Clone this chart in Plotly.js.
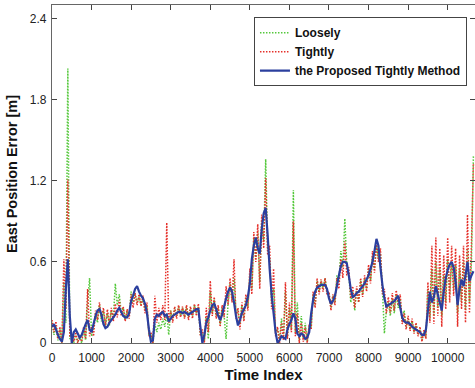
<!DOCTYPE html>
<html>
<head>
<meta charset="utf-8">
<script src="https://cdn.plot.ly/plotly-3.0.1.min.js"></script>
<style>html,body{margin:0;padding:0;background:#fff;}#chart{width:475px;height:388px;}</style>
</head>
<body>
<div id="chart"></div>
<script>
// Time index step between samples
const step = 50;

const seriesNames = ["Loosely", "Tightly", "the Proposed Tightly Method"];
const xTickVals = [0,1000,2000,3000,4000,5000,6000,7000,8000,9000,10000];
const xTickText = ["0","1000","2000","3000","4000","5000","6000","7000","8000","9000","10000"];
const yTickVals = [0,0.6,1.2,1.8,2.4];
const yTickText = ["0","0.6","1.2","1.8","2.4"];

const proposed = [
0.12,0.14,0.10,0.06,0.03,0.01,0.08,0.40,0.62,0.20,
0.00,0.08,0.10,0.07,0.04,0.06,0.10,0.14,0.17,0.10,
0.08,0.14,0.20,0.24,0.25,0.21,0.14,0.11,0.12,0.15,
0.17,0.19,0.21,0.24,0.26,0.23,0.20,0.19,0.19,0.22,
0.31,0.35,0.40,0.42,0.38,0.35,0.33,0.29,0.22,0.10,
0.01,0.02,0.18,0.21,0.20,0.22,0.23,0.20,0.21,0.16,
0.18,0.20,0.21,0.22,0.23,0.23,0.22,0.23,0.22,0.21,
0.22,0.23,0.24,0.25,0.25,0.12,0.00,0.06,0.15,0.19,
0.24,0.28,0.29,0.25,0.20,0.17,0.21,0.27,0.33,0.38,
0.41,0.38,0.30,0.20,0.13,0.17,0.22,0.25,0.28,0.34,
0.44,0.62,0.72,0.78,0.70,0.66,0.84,0.96,1.00,0.80,
0.55,0.36,0.22,0.08,0.00,0.02,0.05,0.04,0.03,0.10,
0.14,0.17,0.22,0.18,0.07,0.05,0.07,0.06,0.03,0.04,
0.08,0.22,0.32,0.38,0.41,0.42,0.43,0.43,0.43,0.40,
0.33,0.29,0.31,0.35,0.42,0.50,0.57,0.60,0.60,0.59,
0.50,0.40,0.34,0.35,0.37,0.38,0.40,0.42,0.44,0.47,
0.50,0.55,0.60,0.68,0.77,0.72,0.56,0.43,0.33,0.27,
0.28,0.29,0.30,0.31,0.33,0.35,0.26,0.19,0.16,0.15,
0.15,0.14,0.12,0.11,0.10,0.09,0.08,0.06,0.06,0.10,
0.24,0.38,0.30,0.34,0.42,0.36,0.30,0.24,0.38,0.48,
0.54,0.58,0.60,0.56,0.45,0.28,0.40,0.47,0.42,0.50,
0.60,0.46,0.50,0.53
];

const tightly = [
0.17,0.08,0.16,0.03,0.12,0.00,0.62,0.25,1.21,0.05,
0.06,0.01,0.08,0.00,0.05,0.01,0.12,0.03,0.40,0.05,
0.12,0.05,0.24,0.17,0.30,0.18,0.26,0.13,0.25,0.14,
0.26,0.16,0.29,0.19,0.32,0.20,0.27,0.16,0.25,0.18,
0.36,0.26,0.37,0.28,0.36,0.27,0.35,0.22,0.30,0.05,
0.08,0.00,0.35,0.15,0.26,0.17,0.28,0.17,0.89,0.15,
0.24,0.15,0.27,0.18,0.28,0.19,0.27,0.18,0.28,0.17,
0.27,0.18,0.29,0.20,0.29,0.05,0.10,0.00,0.26,0.08,
0.46,0.20,0.34,0.18,0.28,0.12,0.28,0.19,0.42,0.28,
0.48,0.30,0.62,0.18,0.26,0.10,0.30,0.16,0.36,0.24,
0.55,0.36,0.82,0.60,0.88,0.40,0.95,0.70,1.22,0.65,
0.72,0.25,0.55,0.05,0.12,0.00,0.15,0.02,0.45,0.03,
0.30,0.08,0.90,0.05,0.22,0.00,0.15,0.01,0.12,0.00,
0.14,0.10,0.38,0.26,0.48,0.36,0.47,0.38,0.48,0.36,
0.38,0.24,0.36,0.28,0.48,0.40,0.62,0.48,0.75,0.50,
0.56,0.33,0.42,0.26,0.42,0.30,0.48,0.34,0.50,0.38,
0.58,0.44,0.68,0.52,0.75,0.60,0.70,0.36,0.40,0.22,
0.34,0.22,0.37,0.24,0.39,0.28,0.36,0.14,0.22,0.10,
0.20,0.09,0.18,0.07,0.15,0.05,0.12,0.01,0.10,0.03,
0.45,0.15,0.72,0.14,0.78,0.20,0.70,0.12,0.65,0.25,
0.78,0.30,0.72,0.35,0.70,0.12,0.65,0.25,0.72,0.15,
0.95,0.22,0.72,1.33
];

const loosely = [
0.15,0.06,0.13,0.02,0.10,0.00,0.45,0.15,2.03,0.03,
0.04,0.00,0.06,0.01,0.04,0.00,0.10,0.02,0.30,0.48,
0.05,0.12,0.22,0.15,0.28,0.16,0.24,0.12,0.22,0.13,
0.24,0.18,0.44,0.28,0.36,0.22,0.26,0.17,0.24,0.20,
0.38,0.30,0.36,0.30,0.34,0.28,0.33,0.25,0.28,0.06,
0.06,0.00,0.14,0.08,0.15,0.10,0.18,0.12,0.22,0.06,
0.24,0.17,0.26,0.20,0.27,0.20,0.26,0.19,0.27,0.19,
0.26,0.20,0.28,0.22,0.27,0.06,0.08,0.01,0.20,0.03,
0.38,0.22,0.32,0.20,0.26,0.14,0.26,0.20,0.03,0.30,
0.44,0.32,0.48,0.22,0.24,0.14,0.28,0.18,0.34,0.26,
0.50,0.40,0.78,0.62,0.82,0.45,0.90,0.75,1.36,0.70,
0.62,0.30,0.40,0.08,0.10,0.02,0.18,0.04,0.38,0.05,
0.26,0.10,1.13,0.08,0.30,0.02,0.20,0.03,0.15,0.01,
0.12,0.12,0.36,0.28,0.46,0.38,0.46,0.40,0.48,0.38,
0.36,0.26,0.35,0.30,0.50,0.45,0.68,0.56,0.92,0.58,
0.52,0.30,0.38,0.24,0.40,0.30,0.46,0.36,0.48,0.40,
0.55,0.46,0.64,0.55,0.72,0.62,0.66,0.40,0.07,0.24,
0.30,0.20,0.33,0.22,0.36,0.26,0.33,0.16,0.24,0.12,
0.18,0.10,0.16,0.08,0.14,0.06,0.10,0.02,0.08,0.04,
0.40,0.18,0.55,0.20,0.60,0.26,0.55,0.20,0.50,0.30,
0.62,0.36,0.60,0.40,0.58,0.22,0.55,0.30,0.60,0.25,
0.70,0.30,0.60,1.39
];

const timeIndex = proposed.map((_, i) => i * step);

const traces = [
  {x: timeIndex, y: loosely, name: seriesNames[0], type: 'scatter', mode: 'lines',
   line: {color: '#55c83c', width: 1.5, dash: '1.5px,1.5px', simplify: false}},
  {x: timeIndex, y: tightly, name: seriesNames[1], type: 'scatter', mode: 'lines',
   line: {color: '#e5302a', width: 1.5, dash: '1.5px,1.5px', simplify: false}},
  {x: timeIndex, y: proposed, name: seriesNames[2], type: 'scatter', mode: 'lines',
   line: {color: '#2b3f9e', width: 2.2, simplify: false}}
];

const axisCommon = {
  showline: true, mirror: 'ticks', linecolor: '#666', linewidth: 1.2,
  ticks: 'inside', ticklen: 5, tickcolor: '#444', tickwidth: 1,
  showgrid: false, zeroline: false,
  tickfont: {family: 'Liberation Sans, Arial, sans-serif', size: 12, color: '#222'}
};

const layout = {
  width: 475, height: 388,
  margin: {l: 52, r: 0, t: 5, b: 45},
  paper_bgcolor: '#fff', plot_bgcolor: '#fff',
  showlegend: true,
  xaxis: Object.assign({}, axisCommon, {
    range: [0, 10690], tickvals: xTickVals, ticktext: xTickText, ticklabelstandoff: 3,
    title: {text: 'Time Index', standoff: 6,
      font: {family: 'Liberation Sans, Arial, sans-serif', size: 15, color: '#111', weight: 'bold'}}
  }),
  yaxis: Object.assign({}, axisCommon, {
    range: [0, 2.5], tickvals: yTickVals, ticktext: yTickText, ticklabelstandoff: 2,
    title: {text: 'East Position Error [m]', standoff: 8,
      font: {family: 'Liberation Sans, Arial, sans-serif', size: 14.5, color: '#111', weight: 'bold'}}
  }),
  legend: {
    x: 0.981, xanchor: 'right', y: 0.964, yanchor: 'top',
    bgcolor: '#fff', bordercolor: '#444', borderwidth: 1,
    font: {family: 'Liberation Sans, Arial, sans-serif', size: 12, color: '#111', weight: 'bold'},
    tracegroupgap: 0
  }
};

Plotly.newPlot('chart', traces, layout, {displayModeBar: false, staticPlot: true});
</script>
</body>
</html>
